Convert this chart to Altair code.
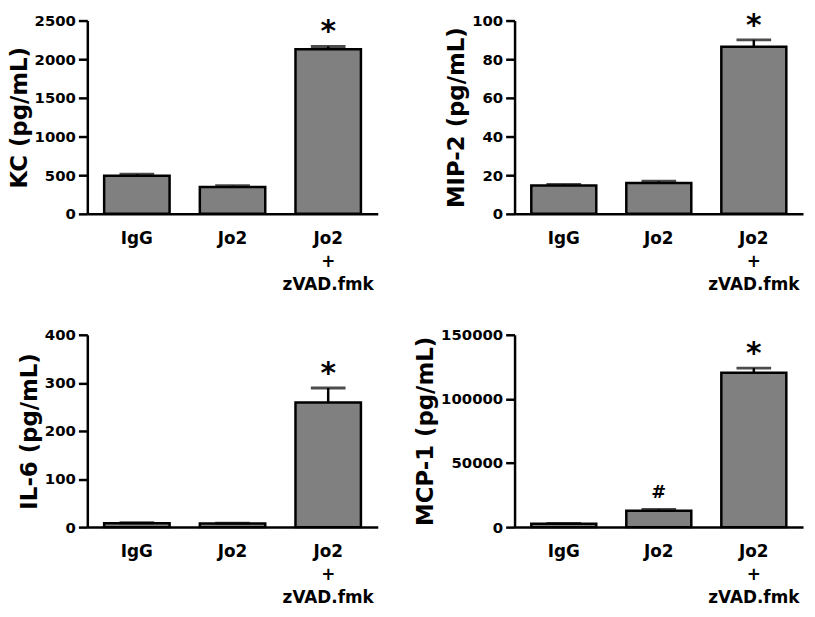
import altair as alt
import pandas as pd

groups = ["IgG", "Jo2", "Jo2 + zVAD.fmk"]

kc_mean = [494, 347, 2130]
kc_err = [514, 365, 2165]
kc_mark = ["", "", "*"]

mip_mean = [14.7, 16.0, 86.4]
mip_err = [15.2, 16.9, 90.0]
mip_mark = ["", "", "*"]

il6_mean = [8.2, 7.6, 259.4]
il6_err = [9.0, 8.3, 289.5]
il6_mark = ["", "", "*"]

mcp_mean = [2570, 12690, 120450]
mcp_err = [2900, 13780, 124000]
mcp_mark = ["", "#", "*"]

FONT = "DejaVu Sans"


def panel(title, means, errs, marks, ymax, ystep, width, height):
    df = pd.DataFrame({"group": groups, "mean": means, "err": errs, "mark": marks})
    xenc = alt.X(
        "group:N",
        sort=groups,
        scale=alt.Scale(paddingInner=0.316, paddingOuter=0.176, align=0.5),
        axis=alt.Axis(
            title=None,
            labelAngle=0,
            labelExpr="split(datum.label, ' ')",
            ticks=False,
            tickSize=0,
            labelPadding=17,
            labelFont=FONT,
            labelFontWeight="bold",
            labelFontSize=17,
            labelLineHeight=23,
            labelBaseline="top",
            labelColor="black",
            domainColor="black",
            domainWidth=2.5,
        ),
    )
    yscale = alt.Scale(domain=[0, ymax], nice=False, zero=True)
    yaxis = alt.Axis(
        title=title,
        values=list(range(0, ymax + 1, ystep)),
        format="d",
        grid=False,
        labelOverlap=False,
        labelFont=FONT,
        labelFontWeight=700,
        labelFontSize=15,
        labelColor="black",
        labelPadding=3,
        tickColor="black",
        tickWidth=2.5,
        tickSize=9,
        domainColor="black",
        domainWidth=2.5,
        titleFont=FONT,
        titleFontWeight="bold",
        titleFontSize=23,
        titleColor="black",
        titlePadding=3,
    )
    base = alt.Chart(df)
    bars = base.mark_bar(fill="#808080", stroke="black", strokeWidth=2.5).encode(
        x=xenc, y=alt.Y("mean:Q", scale=yscale, axis=yaxis)
    )
    rule = base.mark_rule(color="black", strokeWidth=2.5).encode(
        x=xenc, y=alt.Y("mean:Q", scale=yscale, axis=yaxis), y2="err:Q"
    )
    cap = base.mark_tick(orient="horizontal", size=35, thickness=3, color="black").encode(
        x=xenc, y=alt.Y("err:Q", scale=yscale, axis=yaxis)
    )
    star = base.transform_filter("datum.mark == '*'").mark_text(
        font=FONT, fontSize=30, fontWeight="bold", baseline="alphabetic", dy=-5, color="black"
    ).encode(x=xenc, y=alt.Y("err:Q", scale=yscale, axis=yaxis), text="mark:N")
    hashm = base.transform_filter("datum.mark == '#'").mark_text(
        font=FONT, fontSize=18, fontWeight="bold", baseline="alphabetic", dy=-12, color="black"
    ).encode(x=xenc, y=alt.Y("err:Q", scale=yscale, axis=yaxis), text="mark:N")
    return alt.layer(bars, rule, cap, star, hashm).properties(width=width, height=height)


p1 = panel("KC (pg/mL)", kc_mean, kc_err, kc_mark, 2500, 500, 293, 195)
p2 = panel("MIP-2 (pg/mL)", mip_mean, mip_err, mip_mark, 100, 20, 291, 195)
p3 = panel("IL-6 (pg/mL)", il6_mean, il6_err, il6_mark, 400, 100, 293, 194)
p4 = panel("MCP-1 (pg/mL)", mcp_mean, mcp_err, mcp_mark, 150000, 50000, 291, 194)

chart = (
    alt.concat(p1, p2, p3, p4, columns=2, spacing={"row": 122, "column": 138}, bounds="flush")
    .properties(
        autosize=alt.AutoSizeParams(type="none"),
        padding={"left": 80, "top": 10, "right": 726, "bottom": 598},
        background="white",
    )
    .configure_view(stroke=None)
)

chart.save("out.html", embed_options={"renderer": "svg", "actions": False})
